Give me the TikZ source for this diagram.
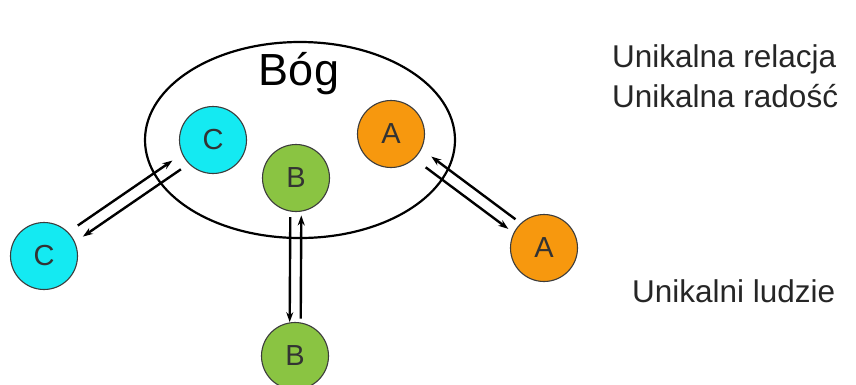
\documentclass[tikz,border=0pt]{standalone}
\usepackage{fontspec}
\setmainfont{Liberation Sans}
\usepackage{tikz}
\usetikzlibrary{calc, shapes, arrows.meta}

\definecolor{personC}{RGB}{20,234,242}
\definecolor{personB}{RGB}{138,196,66}
\definecolor{personA}{RGB}{247,152,14}
\definecolor{rim}{RGB}{60,60,60}

\begin{document}
\begin{tikzpicture}[
  x=1pt, y=-1pt,
  person/.style={
    circle,
    draw=rim,
    line width=1.1pt,
    fill=#1,
    minimum size=67pt,
    inner sep=0pt,
    text=black!80,
    font=\fontsize{29}{30}\selectfont
    },
  arr/.style={
    line width=2.4pt,
    -{Stealth[length=10pt,width=7pt]}
    },
  caption/.style={
    anchor=base west,
    inner sep=0pt,
    text=black!85,
    font=\fontsize{31.5}{36}\selectfont
    }
]
\useasboundingbox (0,0) rectangle (856,384);

\node[ellipse, draw, line width=2.2pt, minimum width=310pt, minimum height=196pt](god) at (300,140) {};
\node[anchor=base, inner sep=0pt, font=\fontsize{45}{50}\selectfont](godname) at (299,85) {Bóg};

\node[person=personC](cin) at (213,140) {C};
\node[person=personB](bin) at (296,178) {B};
\node[person=personA](ain) at (391,134) {A};

\node[person=personC](cout) at (44,256) {C};
\node[person=personB](bout) at (295,356) {B};
\node[person=personA](aout) at (544,248) {A};

      % Draw links
      \draw[arr] ($(cout)!0.22!(cin)!6pt!90:(cin)$) -- ($(cout)!0.78!(cin)!6pt!90:(cin)$);
      \draw[arr] ($(cout)!0.79!(cin)!6pt!-90:(cin)$) -- ($(cout)!0.21!(cin)!6pt!-90:(cin)$);

      \draw[arr] ($(bin)!0.22!(bout)!5.5pt!-90:(bout)$) -- ($(bin)!0.81!(bout)!5.5pt!-90:(bout)$);
      \draw[arr] ($(bin)!0.79!(bout)!5.5pt!90:(bout)$) -- ($(bin)!0.21!(bout)!5.5pt!90:(bout)$);

      \draw[arr] ($(ain)!0.79!(aout)!6pt!90:(aout)$) -- ($(ain)!0.24!(aout)!6pt!90:(aout)$);
      \draw[arr] ($(ain)!0.25!(aout)!6pt!-90:(aout)$) -- ($(ain)!0.79!(aout)!6pt!-90:(aout)$);

\node[caption](relation) at (612,67) {Unikalna relacja};
\node[caption](joy) at (612,107) {Unikalna radość};
\node[caption](people) at (632,302) {Unikalni ludzie};

\end{tikzpicture}
\end{document}
